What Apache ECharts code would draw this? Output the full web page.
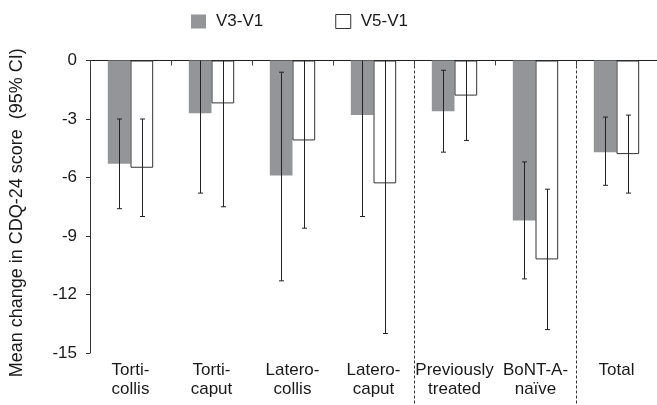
<!DOCTYPE html>
<html>
<head>
<meta charset="utf-8">
<script src="https://cdn.jsdelivr.net/npm/echarts@6/dist/echarts.min.js"></script>
<style>
html,body{margin:0;padding:0;background:#fff;}
#chart{width:657px;height:405px;}
</style>
</head>
<body>
<div id="chart"></div>
<script>
var categories = ['Torti-\ncollis', 'Torti-\ncaput', 'Latero-\ncollis', 'Latero-\ncaput', 'Previously\ntreated', 'BoNT-A-\nnaïve', 'Total'];
var seriesNames = ['V3-V1', 'V5-V1'];
var v3Mean = [-5.3, -2.7, -5.9, -2.8, -2.6, -8.2, -4.7];
var v3Low  = [-7.6, -6.8, -11.3, -8.0, -4.7, -11.2, -6.4];
var v3High = [-3.0, 1.4, -0.6, 2.4, -0.5, -5.2, -2.9];
var v5Mean = [-5.5, -2.2, -4.1, -6.3, -1.8, -10.2, -4.8];
var v5Low  = [-8.0, -7.5, -8.6, -14.0, -4.1, -13.8, -6.8];
var v5High = [-3.0, 3.1, 0.4, 1.4, 0.5, -6.6, -2.8];
var yTicks = [0, -3, -6, -9, -12, -15];
var separatorsAfter = ['Latero-\ncaput', 'BoNT-A-\nnaïve'];

var FONT = "'Liberation Sans', Arial, sans-serif";
var TXT = '#1a1a1a';
var BAR_W = 0.28;

function errData(lo, hi) {
  return categories.map(function (c, i) { return [i, lo[i], hi[i]]; });
}
function errRender(sign) {
  return function (params, api) {
    var i = api.value(0);
    var band = api.size([1, 0])[0];
    var off = sign * band * BAR_W / 2;
    var pLo = api.coord([i, api.value(1)]);
    var pHi = api.coord([i, api.value(2)]);
    var x = Math.round(pLo[0] + off) + 0.5;
    var cap = 2.5;
    var st = { stroke: '#222', lineWidth: 1 };
    return {
      type: 'group',
      children: [
        { type: 'line', shape: { x1: x, y1: pLo[1], x2: x, y2: pHi[1] }, style: st },
        { type: 'line', shape: { x1: x - cap, y1: pLo[1], x2: x + cap, y2: pLo[1] }, style: st },
        { type: 'line', shape: { x1: x - cap, y1: pHi[1], x2: x + cap, y2: pHi[1] }, style: st }
      ]
    };
  };
}

var chart = echarts.init(document.getElementById('chart'), null, { renderer: 'canvas' });
chart.setOption({
  animation: false,
  backgroundColor: '#fff',
  textStyle: { fontFamily: FONT },
  legend: {
    left: 191, top: 13, padding: 0,
    itemWidth: 15, itemHeight: 14, itemGap: 72,
    textStyle: { fontSize: 17, color: TXT, fontFamily: FONT, padding: [0, 0, 0, 5] },
    data: [
      { name: seriesNames[0], icon: 'rect', itemStyle: { color: '#939598', borderWidth: 0 } },
      { name: seriesNames[1], icon: 'rect', itemStyle: { color: '#fff', borderColor: '#333', borderWidth: 1 } }
    ]
  },
  grid: { left: 88, right: -2, top: 60.5, bottom: 52, containLabel: false },
  xAxis: [
    {
      type: 'category', data: categories, position: 'top',
      axisLine: { show: true, lineStyle: { color: '#222', width: 1 } },
      axisTick: { show: true, inside: true, length: 5, lineStyle: { color: '#444' } },
      axisLabel: { show: false },
      splitLine: { show: false }
    },
    {
      type: 'category', data: categories, position: 'bottom',
      axisLine: { show: false }, axisTick: { show: false },
      axisLabel: { show: true, margin: 8, fontSize: 17, lineHeight: 19, color: TXT, fontFamily: FONT, interval: 0 }
    }
  ],
  yAxis: {
    type: 'value', min: -15, max: 0, interval: 3,
    name: 'Mean change in CDQ-24 score  (95% CI)',
    nameLocation: 'middle', nameRotate: 90, nameGap: 64,
    nameTextStyle: { fontSize: 18, color: TXT, fontFamily: FONT, padding: [0, 12, 0, 0] },
    axisLine: { show: true, lineStyle: { color: '#333', width: 1 } },
    axisTick: { show: true, inside: false, length: 4, lineStyle: { color: '#333' } },
    axisLabel: { fontSize: 17, color: TXT, margin: 13, fontFamily: FONT,
      formatter: function (v) { return yTicks.indexOf(v) >= 0 ? String(v) : ''; } },
    splitLine: { show: false }
  },
  series: [
    {
      name: seriesNames[0], type: 'bar', data: v3Mean, barWidth: (BAR_W * 100) + '%', barGap: '0%',
      itemStyle: { color: '#939598' }, z: 2
    },
    {
      name: seriesNames[1], type: 'bar', data: v5Mean, barWidth: (BAR_W * 100) + '%', barGap: '0%',
      itemStyle: { color: '#fff', borderColor: '#333', borderWidth: 1 }, z: 2
    },
    {
      type: 'custom', name: 'err3', data: errData(v3Low, v3High), renderItem: errRender(-1),
      clip: true, z: 5, silent: true, encode: { x: 0, y: [1, 2] }
    },
    {
      type: 'custom', name: 'err5', data: errData(v5Low, v5High), renderItem: errRender(1),
      clip: true, z: 5, silent: true, encode: { x: 0, y: [1, 2] }
    },
    {
      type: 'custom', name: 'sep', clip: false, z: 6, silent: true,
      data: separatorsAfter.map(function (c) { return [categories.indexOf(c), 0, -15]; }),
      encode: { x: 0, y: [1, 2] },
      renderItem: function (params, api) {
        var i = api.value(0);
        var band = api.size([1, 0])[0];
        var top = api.coord([i, api.value(1)]);
        var bot = api.coord([i, api.value(2)]);
        var x = Math.round(top[0] + band / 2) + 0.5;
        return {
          type: 'line',
          shape: { x1: x, y1: top[1], x2: x, y2: bot[1] + 55 },
          style: { stroke: '#333', lineWidth: 1, lineDash: [3, 2] }
        };
      }
    }
  ]
});
</script>
</body>
</html>
